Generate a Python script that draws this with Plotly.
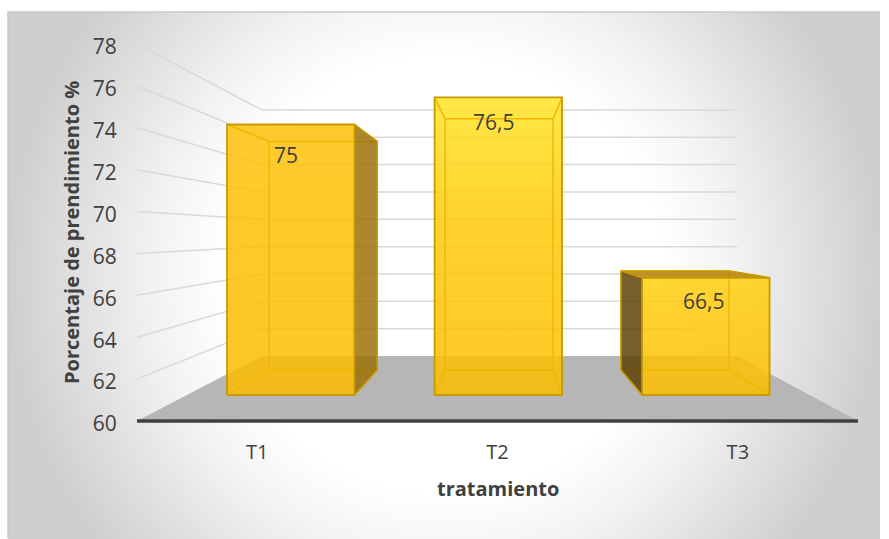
import plotly.graph_objects as go

categories = ["T1", "T2", "T3"]
values = [75, 76.5, 66.5]
labels = ["75", "76,5", "66,5"]
y_ticks = [60, 62, 64, 66, 68, 70, 72, 74, 76, 78]
y_title = "Porcentaje de prendimiento %"
x_title = "tratamiento"

W, H = 889, 539
LEFT, RIGHT, BASE = 137.0, 858.0, 421.0
BACK_LEFT, BACK_RIGHT, BACK_BASE = 262.0, 737.0, 356.0
UNIT_FRONT, UNIT_BACK = 20.94, 13.67
CAT_PX = (RIGHT - LEFT) / 3
Y0 = 60.0
TEXT = "#404040"

def x_of(px):
    return (px - LEFT) / CAT_PX

def y_of(py):
    return Y0 + (BASE - py) / UNIT_FRONT

def project(u, v, d):
    l = LEFT + (BACK_LEFT - LEFT) * d
    r = RIGHT + (BACK_RIGHT - RIGHT) * d
    px = l + u / 3 * (r - l)
    py = BASE + (BACK_BASE - BASE) * d - (UNIT_FRONT + (UNIT_BACK - UNIT_FRONT) * d) * (v - Y0)
    return x_of(px), y_of(py)

def path(points):
    pts = [project(*p) for p in points]
    return [p[0] for p in pts], [p[1] for p in pts]

fig = go.Figure()

def add_line(xs, ys, color, width):
    fig.add_trace(go.Scatter(x=xs, y=ys, mode="lines", line=dict(color=color, width=width),
                             hoverinfo="skip", showlegend=False))

def add_poly(xs, ys, color=None, gradient=None):
    kw = dict(fillgradient=gradient) if gradient else dict(fillcolor=color)
    fig.add_trace(go.Scatter(x=list(xs) + [xs[0]], y=list(ys) + [ys[0]], mode="lines", fill="toself",
                             line=dict(width=0), hoverinfo="skip", showlegend=False, **kw))

# chart-area background: circular gradient clipped by the page bands
cx, cy, half = 444.0, 275.0, 436.0
add_poly([x_of(cx - half), x_of(cx + half), x_of(cx + half), x_of(cx - half)],
         [y_of(cy - half), y_of(cy - half), y_of(cy + half), y_of(cy + half)],
         gradient=dict(type="radial", colorscale=[[0, "#ffffff"], [0.5, "#ffffff"], [0.66, "#f3f3f3"],
                                                  [1, "#cfcfcf"]]))
add_poly([x_of(0), x_of(W), x_of(W), x_of(0)], [y_of(0), y_of(0), y_of(12), y_of(12)], color="#ffffff")
add_line([x_of(8), x_of(8), x_of(880)], [y_of(538), y_of(12), y_of(12)], "#c9c9c9", 1.5)

# walls and floor
for t in y_ticks[1:]:
    xs, ys = path([(0, t, 0), (0, t, 1), (3, t, 1)])
    add_line(xs, ys, "#d9d9d9", 1.5)
xs, ys = path([(0, Y0, 0), (3, Y0, 0), (3, Y0, 1), (0, Y0, 1)])
add_poly(xs, ys, color="#b6b6b6")

# bars
U_PAD, D_FRONT, D_BACK = 0.193, 0.4, 0.785
front_grad = [
    [[0, "rgba(253,188,0,0.85)"], [1, "rgba(255,193,8,0.85)"]],
    [[0, "rgba(253,190,0,0.85)"], [0.6, "rgba(255,203,10,0.85)"], [1, "rgba(255,228,38,0.85)"]],
    [[0, "rgba(253,190,0,0.85)"], [1, "rgba(255,207,15,0.85)"]],
]
side_color = ["rgba(152,109,0,0.82)", None, "rgba(89,61,0,0.82)"]
top_color = [None, None, "rgba(181,129,0,0.85)"]
EDGE, INNER = "#c69a00", "#f0b800"

for i, v in enumerate(values):
    a, b = i + U_PAD, i + 1 - U_PAD
    xs, ys = path([(a, Y0, D_FRONT), (b, Y0, D_FRONT), (b, v, D_FRONT), (a, v, D_FRONT)])
    add_poly(xs, ys, gradient=dict(type="vertical", colorscale=front_grad[i]))
    # inner edges, dimmed afterwards by the outer side faces
    xs, ys = path([(a, Y0, D_BACK), (b, Y0, D_BACK), (b, v, D_BACK), (a, v, D_BACK), (a, Y0, D_BACK)])
    add_line(xs, ys, INNER, 1.5)
    for u_, v_ in [(a, Y0), (b, Y0), (a, v), (b, v)]:
        xs, ys = path([(u_, v_, D_FRONT), (u_, v_, D_BACK)])
        add_line(xs, ys, INNER, 1.5)
    if i == 0:
        xs, ys = path([(b, Y0, D_FRONT), (b, v, D_FRONT), (b, v, D_BACK), (b, Y0, D_BACK)])
        add_poly(xs, ys, color=side_color[i])
    if i == 2:
        xs, ys = path([(a, Y0, D_FRONT), (a, v, D_FRONT), (a, v, D_BACK), (a, Y0, D_BACK)])
        add_poly(xs, ys, color=side_color[i])
        xs, ys = path([(a, v, D_FRONT), (b, v, D_FRONT), (b, v, D_BACK), (a, v, D_BACK)])
        add_poly(xs, ys, color=top_color[i])
    # outer edges
    xs, ys = path([(a, Y0, D_FRONT), (b, Y0, D_FRONT), (b, v, D_FRONT), (a, v, D_FRONT), (a, Y0, D_FRONT)])
    add_line(xs, ys, EDGE, 1.8)
    if i == 0:
        xs, ys = path([(b, v, D_FRONT), (b, v, D_BACK), (b, Y0, D_BACK), (b, Y0, D_FRONT)])
        add_line(xs, ys, EDGE, 1.5)
    if i == 2:
        xs, ys = path([(a, v, D_FRONT), (a, v, D_BACK), (b, v, D_BACK), (b, v, D_FRONT)])
        add_line(xs, ys, EDGE, 1.5)
        xs, ys = path([(a, v, D_BACK), (a, Y0, D_BACK), (a, Y0, D_FRONT)])
        add_line(xs, ys, EDGE, 1.5)

# front axis line
xs, ys = path([(0, Y0, 0), (3, Y0, 0)])
add_line(xs, ys, TEXT, 3.5)

# data labels
label_shift = [(-5, 30), (-5, 25), (-2, 23)]
annotations = []
for i, v in enumerate(values):
    ax, ay = project(i + 0.5, v, D_FRONT)
    annotations.append(dict(x=ax, y=ay, text=labels[i], showarrow=False, xanchor="center", yanchor="middle",
                            xshift=label_shift[i][0], yshift=-label_shift[i][1],
                            font=dict(size=21, color=TEXT, family="Open Sans")))
annotations.append(dict(x=x_of(71), y=y_of(233), text=y_title, textangle=-90, showarrow=False,
                        font=dict(size=20, color=TEXT, family="Open Sans", weight="bold")))
annotations.append(dict(x=x_of(498), y=y_of(488), text=x_title, showarrow=False,
                        font=dict(size=20, color=TEXT, family="Open Sans", weight="bold")))

fig.update_layout(
    width=W, height=H, margin=dict(l=0, r=0, t=0, b=0),
    paper_bgcolor="#ffffff", plot_bgcolor="#ffffff", showlegend=False,
    annotations=annotations,
    xaxis=dict(range=[x_of(0), x_of(W)], domain=[0, 1], anchor="free", position=(H - BASE) / H,
               tickmode="array", tickvals=[0.5, 1.5, 2.5], ticktext=categories,
               tickfont=dict(size=20, color=TEXT, family="Open Sans"),
               ticks="outside", ticklen=13, tickcolor="rgba(0,0,0,0)",
               showgrid=False, zeroline=False, showline=False),
    yaxis=dict(range=[y_of(H), y_of(0)], domain=[0, 1], anchor="free", position=LEFT / W,
               tickmode="array", tickvals=y_ticks, ticktext=[str(t) for t in y_ticks],
               tickfont=dict(size=21, color=TEXT, family="Open Sans"),
               ticks="outside", ticklen=16, tickcolor="rgba(0,0,0,0)", ticklabelshift=3,
               showgrid=False, zeroline=False, showline=False),
)

fig.write_html("out.html", post_script="document.body.style.margin='0';",
               config=dict(displayModeBar=False))
